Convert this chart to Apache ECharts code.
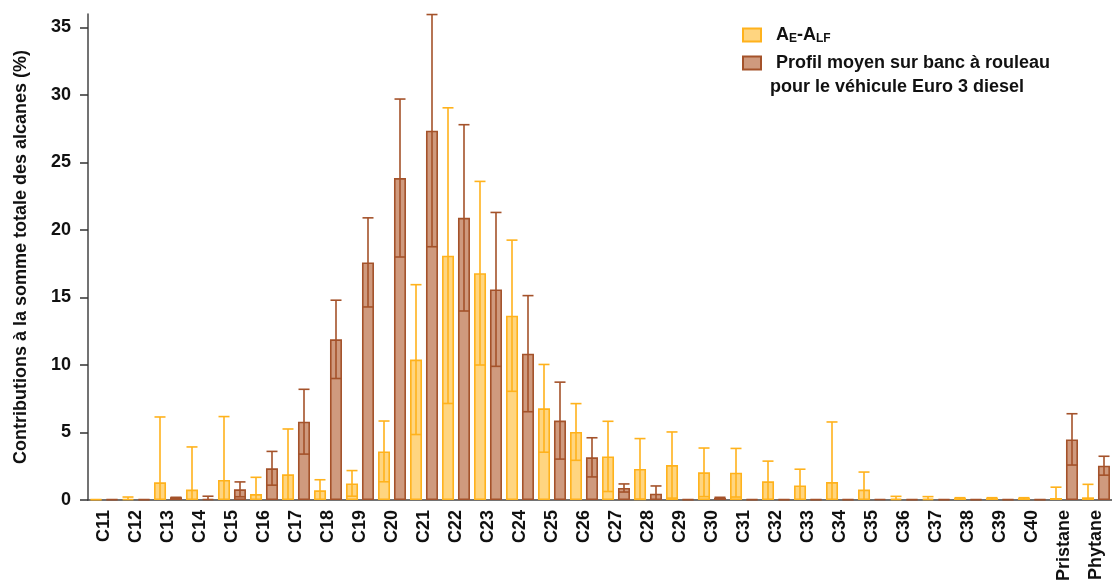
<!DOCTYPE html>
<html><head><meta charset="utf-8">
<script src="https://cdn.jsdelivr.net/npm/echarts@6/dist/echarts.min.js"></script>
<style>html,body{margin:0;padding:0;background:#fff}#c{width:1112px;height:588px}</style>
</head><body><div id="c"></div>
<script>
const categories = ['C11','C12','C13','C14','C15','C16','C17','C18','C19','C20','C21','C22','C23','C24','C25','C26','C27','C28','C29','C30','C31','C32','C33','C34','C35','C36','C37','C38','C39','C40','Pristane','Phytane'];
const yellowVals = [0.05,0.08,1.31,0.77,1.48,0.44,1.9,0.72,1.23,3.6,10.4,18.1,16.8,13.65,6.79,5.04,3.23,2.3,2.59,2.05,2.02,1.38,1.08,1.33,0.77,0.1,0.1,0.12,0.12,0.12,0.15,0.2];
const yellowErr  = [0,0.14,4.84,3.16,4.7,1.24,3.36,0.78,0.95,2.25,5.55,10.95,6.8,5.6,3.25,2.1,2.6,2.25,2.45,1.8,1.8,1.5,1.2,4.45,1.3,0.17,0.15,0.05,0.05,0.05,0.8,0.96];
const brownVals  = [0.05,0.05,0.17,0.08,0.79,2.35,5.8,11.9,17.6,23.85,27.36,20.9,15.6,10.84,5.88,3.16,0.89,0.47,0.05,0.15,0.05,0.05,0.05,0.05,0.08,0.05,0.05,0.05,0.05,0.05,4.49,2.54];
const brownErr   = [0,0,0.03,0.2,0.55,1.25,2.4,2.9,3.3,5.85,8.6,6.9,5.7,4.3,2.85,1.45,0.3,0.57,0,0.05,0,0,0,0,0,0,0,0,0,0,1.9,0.7];
const yTicks = [0,5,10,15,20,25,30,35];
const nameY = 'A_E-A_LF';
const nameB = 'Profil moyen sur banc à rouleau';
const nameB2 = 'pour le véhicule Euro 3 diesel';
const yTitle = 'Contributions à la somme totale des alcanes (%)';

const FONT = 'Liberation Sans, Arial, sans-serif';
const YEL_FILL = '#FFD580', YEL_LINE = '#FFB21C';
const BRN_FILL = '#CF9A7E', BRN_LINE = '#A4522A';

function errSeries(vals, errs, offset, color) {
  return {
    type: 'custom', z: 10, silent: true,
    encode: {x: 0, y: 1},
    data: vals.map((v, i) => [i, v, errs[i]]),
    renderItem: function (params, api) {
      const i = api.value(0), v = api.value(1), e = api.value(2);
      if (!e) return null;
      const hi = api.coord([i, v + e]);
      const lo = api.coord([i, Math.max(0, v - e)]);
      const x = hi[0] + offset;
      const st = {stroke: color, lineWidth: 1.6};
      const ch = [
        {type: 'line', shape: {x1: x, y1: hi[1], x2: x, y2: lo[1]}, style: st},
        {type: 'line', shape: {x1: x - 5.5, y1: hi[1], x2: x + 5.5, y2: hi[1]}, style: st}
      ];
      if (v - e > 0) ch.push({type: 'line', shape: {x1: x - 6, y1: lo[1], x2: x + 6, y2: lo[1]}, style: st});
      return {type: 'group', children: ch};
    }
  };
}

const chart = echarts.init(document.getElementById('c'));
chart.setOption({
  animation: false,
  grid: {left: 88, right: 0, top: 14, bottom: 88, containLabel: false, outerBoundsMode: 'none'},
  legend: {
    data: [nameY, nameB], orient: 'vertical', left: 737, top: 20,
    icon: 'rect', itemWidth: 18, itemHeight: 13, itemGap: 8,
    textStyle: {fontFamily: FONT, fontWeight: 'bold', fontSize: 18, color: '#111', lineHeight: 20,
      rich: {
        b: {fontFamily: FONT, fontWeight: 'bold', fontSize: 18, color: '#111', lineHeight: 20},
        s: {fontFamily: FONT, fontWeight: 'bold', fontSize: 12, color: '#111', lineHeight: 6, verticalAlign: 'bottom'},
        p: {width: 10, lineHeight: 20}
      }},
    formatter: function (n) {
      if (n === nameY) return '{p|}{b|A}{s|E}{b|-A}{s|LF}';
      return '{p|}{b|' + n + '}';
    }
  },
  graphic: [{type: 'text', left: 770, top: 78, style: {text: nameB2, font: 'bold 18px ' + FONT, fill: '#111'}}],
  xAxis: {
    type: 'category', data: categories,
    axisLine: {lineStyle: {color: '#444', width: 1.5}},
    axisTick: {length: 9, lineStyle: {color: '#222', width: 1.5}},
    axisLabel: {rotate: 90, interval: 0, margin: 10, color: '#111', fontFamily: FONT, fontWeight: 'bold', fontSize: 18}
  },
  yAxis: {
    type: 'value', min: 0, max: 36,
    name: yTitle, nameLocation: 'middle', nameGap: 58, nameRotate: 90,
    nameTextStyle: {fontFamily: FONT, fontWeight: 'bold', fontSize: 18, color: '#111'},
    splitLine: {show: false},
    axisLine: {show: true, lineStyle: {color: '#444', width: 1.5}},
    axisTick: {show: true, length: 8, customValues: yTicks, lineStyle: {color: '#333', width: 1.5}},
    axisLabel: {customValues: yTicks, margin: 17, color: '#111', fontFamily: FONT, fontWeight: 'bold', fontSize: 18}
  },
  series: [
    {name: nameY, type: 'bar', data: yellowVals, barWidth: 12, barGap: '33%',
      itemStyle: {color: YEL_FILL, borderColor: YEL_LINE, borderWidth: 1.6}},
    {name: nameB, type: 'bar', data: brownVals, barWidth: 12,
      itemStyle: {color: BRN_FILL, borderColor: BRN_LINE, borderWidth: 1.6}},
    errSeries(yellowVals, yellowErr, -8, YEL_LINE),
    errSeries(brownVals, brownErr, 8, BRN_LINE)
  ]
});
</script></body></html>
